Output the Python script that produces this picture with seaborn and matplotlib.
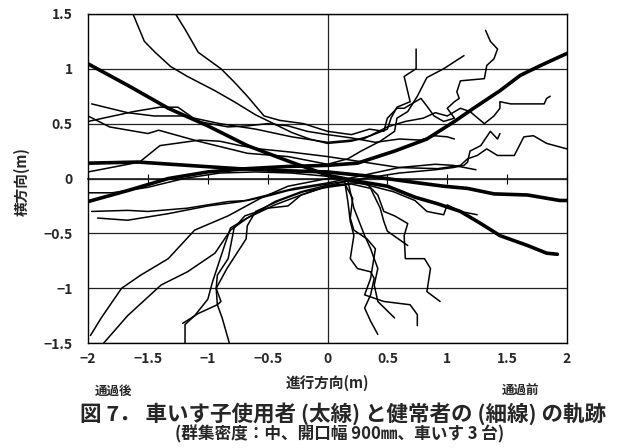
"""
Траектории движения:車いす使用者 (толстые линии) и пешеходы (тонкие).
"""
import pandas as pd
import matplotlib
matplotlib.use('Agg')
import matplotlib.pyplot as plt
import seaborn as sns

# --- данные (м) ---
wheelchair_1 = [(-2.0, 1.045), (-1.67, 0.85), (-1.33, 0.64), (-1.0, 0.48), (-0.67, 0.30),
                (-0.33, 0.16), (0.0, 0.03), (0.28, -0.03), (0.5, -0.07), (0.73, -0.17),
                (0.92, -0.23), (1.11, -0.3), (1.28, -0.41), (1.44, -0.52), (1.67, -0.61),
                (1.83, -0.68), (1.92, -0.69)]
wheelchair_2 = [(-2.0, -0.21), (-1.67, -0.11), (-1.33, 0.0), (-1.0, 0.06), (-0.67, 0.09),
                (-0.33, 0.11), (0.0, 0.12), (0.25, 0.14), (0.56, 0.25), (0.83, 0.36),
                (1.06, 0.52), (1.22, 0.64), (1.44, 0.8), (1.61, 0.94), (1.78, 1.03), (2.0, 1.14)]
wheelchair_3 = [(-2.0, 0.14), (-1.58, 0.15), (-1.17, 0.12), (-0.75, 0.09), (-0.33, 0.07),
                (0.0, 0.06), (0.36, 0.02), (0.69, -0.03), (0.97, -0.07), (1.17, -0.09),
                (1.39, -0.14), (1.67, -0.15), (1.94, -0.2), (2.0, -0.2)]

pedestrian_01 = [(-1.625, 1.5), (-1.53, 1.25), (-1.44, 1.15), (-1.31, 1.02), (-1.17, 0.93),
                 (-0.94, 0.8), (-0.78, 0.7), (-0.6, 0.58), (-0.45, 0.5), (-0.3, 0.42),
                 (-0.15, 0.36), (0.0, 0.32), (0.2, 0.34), (0.36, 0.39), (0.5, 0.45),
                 (0.53, 0.55), (0.58, 0.65), (0.69, 0.7), (0.64, 0.93), (0.74, 1.0), (0.74, 1.18)]
pedestrian_02 = [(-1.27, 1.5), (-1.19, 1.36), (-1.08, 1.15), (-0.89, 1.0), (-0.78, 0.88),
                 (-0.67, 0.75), (-0.53, 0.57), (-0.4, 0.53), (-0.2, 0.5), (0.0, 0.43),
                 (0.2, 0.4), (0.35, 0.45), (0.47, 0.43), (0.5, 0.55), (0.58, 0.64),
                 (0.64, 0.64), (0.78, 0.73), (0.83, 0.66), (0.89, 0.57), (0.97, 0.52),
                 (1.06, 0.55), (1.0, 0.64), (1.06, 0.7), (1.1, 0.73), (1.08, 0.79),
                 (1.11, 0.89), (1.31, 0.91), (1.33, 1.03), (1.39, 1.09), (1.42, 1.18),
                 (1.36, 1.25), (1.32, 1.35)]
pedestrian_03 = [(-2.0, 0.57), (-1.82, 0.47), (-1.5, 0.41), (-1.41, 0.44), (-1.08, 0.34),
                 (-0.67, 0.23), (-0.33, 0.2), (0.0, 0.13), (0.17, 0.18), (0.28, 0.25),
                 (0.44, 0.34), (0.56, 0.43), (0.58, 0.55), (0.67, 0.61), (0.75, 0.75),
                 (0.83, 0.92), (0.97, 1.0), (1.14, 1.12)]
pedestrian_04 = [(-1.97, 0.68), (-1.67, 0.6), (-1.45, 0.57), (-1.2, 0.57), (-0.9, 0.5),
                 (-0.6, 0.45), (-0.3, 0.38), (0.0, 0.33), (0.3, 0.36), (0.5, 0.47),
                 (0.65, 0.52), (0.8, 0.55), (0.9, 0.6), (1.0, 0.57), (1.11, 0.64),
                 (1.19, 0.61), (1.31, 0.5), (1.39, 0.57), (1.44, 0.64), (1.44, 0.7),
                 (1.53, 0.68), (1.81, 0.68), (1.83, 0.73), (1.86, 0.75)]
pedestrian_05 = [(-2.0, 0.52), (-1.62, 0.61), (-1.4, 0.65), (-1.25, 0.65), (-1.08, 0.52),
                 (-0.83, 0.47), (-0.67, 0.48), (-0.5, 0.5), (-0.33, 0.48), (-0.17, 0.43),
                 (0.0, 0.4), (0.2, 0.37), (0.4, 0.33), (0.6, 0.36), (0.78, 0.35),
                 (0.89, 0.39), (1.0, 0.38), (1.06, 0.36)]
pedestrian_06 = [(-2.0, 0.06), (-1.57, 0.15), (-1.4, 0.3), (-1.07, 0.35), (-0.9, 0.34),
                 (-0.73, 0.3), (-0.57, 0.27), (-0.3, 0.24), (0.0, 0.2), (0.3, 0.15),
                 (0.6, 0.1), (0.92, 0.09), (1.11, 0.12), (1.17, 0.18), (1.25, 0.21),
                 (1.33, 0.27), (1.42, 0.21), (1.56, 0.21), (1.64, 0.38), (1.72, 0.39),
                 (1.83, 0.32), (2.0, 0.27)]
pedestrian_07 = [(-1.97, -0.3), (-1.67, -0.29), (-1.5, -0.3), (-1.17, -0.27), (-0.83, -0.21),
                 (-0.67, -0.2), (-0.5, -0.16), (-0.33, -0.11), (0.0, -0.05), (0.3, 0.0),
                 (0.6, 0.05), (0.9, 0.08), (1.05, 0.1), (1.14, 0.12), (1.17, 0.15),
                 (1.19, 0.25), (1.28, 0.3), (1.36, 0.43), (1.42, 0.36), (1.44, 0.41)]
pedestrian_08 = [(-1.92, -0.36), (-1.67, -0.38), (-1.33, -0.32), (-1.0, -0.25), (-0.72, -0.21),
                 (-0.5, -0.15), (-0.28, -0.09), (0.0, -0.04), (0.3, 0.03), (0.6, 0.1),
                 (0.9, 0.13), (1.05, 0.12), (1.24, 0.08)]
pedestrian_09 = [(-2.0, -0.13), (-1.8, -0.13), (-1.5, -0.08), (-1.2, 0.0), (-0.9, 0.05),
                 (-0.6, 0.06), (-0.3, 0.05), (0.0, 0.02), (0.3, -0.05), (0.55, -0.12),
                 (0.73, -0.2), (0.83, -0.3), (0.97, -0.33), (1.0, -0.24), (1.11, -0.3),
                 (1.25, -0.33)]
pedestrian_10 = [(-1.98, -1.43), (-1.89, -1.27), (-1.72, -1.0), (-1.56, -0.88), (-1.33, -0.73),
                 (-1.11, -0.47), (-0.83, -0.34), (-0.56, -0.18), (-0.33, -0.07), (0.0, 0.0),
                 (0.14, 0.0), (0.17, -0.21), (0.19, -0.39), (0.22, -0.52), (0.19, -0.73),
                 (0.25, -0.82), (0.36, -0.85), (0.39, -0.91), (0.36, -1.06), (0.31, -1.18),
                 (0.36, -1.3), (0.42, -1.42)]
pedestrian_11 = [(-1.87, -1.5), (-1.67, -1.25), (-1.39, -0.97), (-1.17, -0.85), (-0.94, -0.68),
                 (-0.81, -0.47), (-0.67, -0.36), (-0.44, -0.24), (-0.22, -0.15), (0.0, -0.07),
                 (0.17, -0.02), (0.22, -0.27), (0.31, -0.52), (0.36, -0.64), (0.42, -0.82),
                 (0.39, -0.97), (0.42, -1.12), (0.56, -1.27)]
pedestrian_12 = [(-1.19, -1.5), (-1.19, -1.33), (-1.11, -1.25), (-1.0, -1.1), (-0.96, -0.94),
                 (-0.86, -0.61), (-0.81, -0.45), (-0.64, -0.34), (-0.44, -0.21), (-0.22, -0.12),
                 (0.0, -0.06), (0.15, -0.06), (0.21, -0.18), (0.19, -0.36), (0.22, -0.47),
                 (0.33, -0.55), (0.4, -0.64), (0.36, -0.91), (0.31, -1.06), (0.47, -1.12),
                 (0.69, -1.15), (0.75, -1.24), (0.75, -1.34)]
pedestrian_13 = [(-1.21, -1.32), (-1.08, -1.23), (-0.92, -1.15), (-0.89, -1.12), (-0.93, -1.0),
                 (-0.92, -0.88), (-0.83, -0.73), (-0.78, -0.45), (-0.69, -0.34), (-0.5, -0.27),
                 (-0.33, -0.25), (-0.22, -0.15), (0.0, -0.07), (0.2, -0.04), (0.33, -0.05),
                 (0.42, -0.15), (0.47, -0.3), (0.56, -0.34), (0.67, -0.41), (0.64, -0.52),
                 (0.65, -0.73), (0.81, -0.73), (0.86, -0.82), (0.83, -1.03), (0.94, -1.12)]
pedestrian_14 = [(-0.82, -1.5), (-0.88, -1.27), (-0.92, -1.15), (-0.93, -1.0), (-0.84, -0.82),
                 (-0.68, -0.55), (-0.67, -0.43), (-0.6, -0.3), (-0.4, -0.2), (-0.2, -0.12),
                 (0.0, -0.08), (0.2, -0.05), (0.36, -0.09), (0.44, -0.27), (0.47, -0.39),
                 (0.5, -0.48), (0.67, -0.61)]

wheelchair_paths = [wheelchair_1, wheelchair_2, wheelchair_3]
pedestrian_paths = [pedestrian_01, pedestrian_02, pedestrian_03, pedestrian_04, pedestrian_05,
                    pedestrian_06, pedestrian_07, pedestrian_08, pedestrian_09, pedestrian_10,
                    pedestrian_11, pedestrian_12, pedestrian_13, pedestrian_14]

x_ticks = [-2, -1.5, -1, -0.5, 0, 0.5, 1, 1.5, 2]
x_tick_labels = ['−2', '−1.5', '−1', '−0.5', '0', '0.5', '1', '1.5', '2']
y_ticks = [-1.5, -1, -0.5, 0, 0.5, 1, 1.5]
y_tick_labels = ['−1.5', '−1', '−0.5', '0', '0.5', '1', '1.5']


def to_frame(paths):
    rows = []
    for i, path in enumerate(paths):
        for k, (x, y) in enumerate(path):
            rows.append({'id': i, 'step': k, 'x': x, 'y': y})
    return pd.DataFrame(rows)


sns.set_theme(style='white')
plt.rcParams['font.family'] = ['Noto Sans CJK JP', 'DejaVu Sans']

fig = plt.figure(figsize=(6.29, 4.48), dpi=100)
ax = fig.add_axes([0.14, 0.234, 0.7614, 0.735])

# сетка: горизонтальные линии и вертикаль по x=0
ax.set_axisbelow(True)
ax.yaxis.grid(True, color='#222222', linewidth=0.9)
ax.axvline(0, color='#222222', linewidth=0.9, zorder=0.5)

sns.lineplot(data=to_frame(pedestrian_paths), x='x', y='y', units='id', estimator=None,
             sort=False, color='black', linewidth=1.1, ax=ax)
sns.lineplot(data=to_frame(wheelchair_paths), x='x', y='y', units='id', estimator=None,
             sort=False, color='black', linewidth=2.6, ax=ax)

ax.set_xlim(-2, 2)
ax.set_ylim(-1.5, 1.5)
ax.set_xticks(x_ticks)
ax.set_xticklabels(x_tick_labels, fontsize=10, fontweight='bold')
ax.set_yticks(y_ticks)
ax.set_yticklabels(y_tick_labels, fontsize=10, fontweight='bold')
ax.tick_params(axis='x', length=0, pad=6)
ax.tick_params(axis='y', length=0, pad=11)
ax.set_xlabel('')
ax.set_ylabel('横方向(m)', fontsize=10.5, fontweight='bold')
ax.yaxis.set_label_coords(-0.122, 0.49)

for s in ax.spines.values():
    s.set_color('black')
    s.set_linewidth(1.0)

# засечки на линии y=0 (как ось Excel)
sec = ax.secondary_xaxis(0.5)
sec.set_xticks(x_ticks)
sec.set_xticklabels([])
sec.tick_params(direction='inout', length=7, width=0.8, color='black')
sec.spines['bottom'].set_visible(False)

fig.text(0.521, 0.145, '進行方向(m)', ha='center', va='center', fontsize=10.5, fontweight='bold')
fig.text(0.18, 0.126, '通過後', ha='center', va='center', fontsize=9, fontweight='bold')
fig.text(0.827, 0.126, '通過前', ha='center', va='center', fontsize=9, fontweight='bold')
fig.text(0.546, 0.077, '図 7． 車いす子使用者 (太線) と健常者の (細線) の軌跡',
         ha='center', va='center', fontsize=15.5, fontweight='bold')
fig.text(0.54, 0.03, '(群集密度：中、開口幅 900㎜、車いす 3 台)',
         ha='center', va='center', fontsize=12, fontweight='bold')

fig.savefig('out.png', dpi=100)
